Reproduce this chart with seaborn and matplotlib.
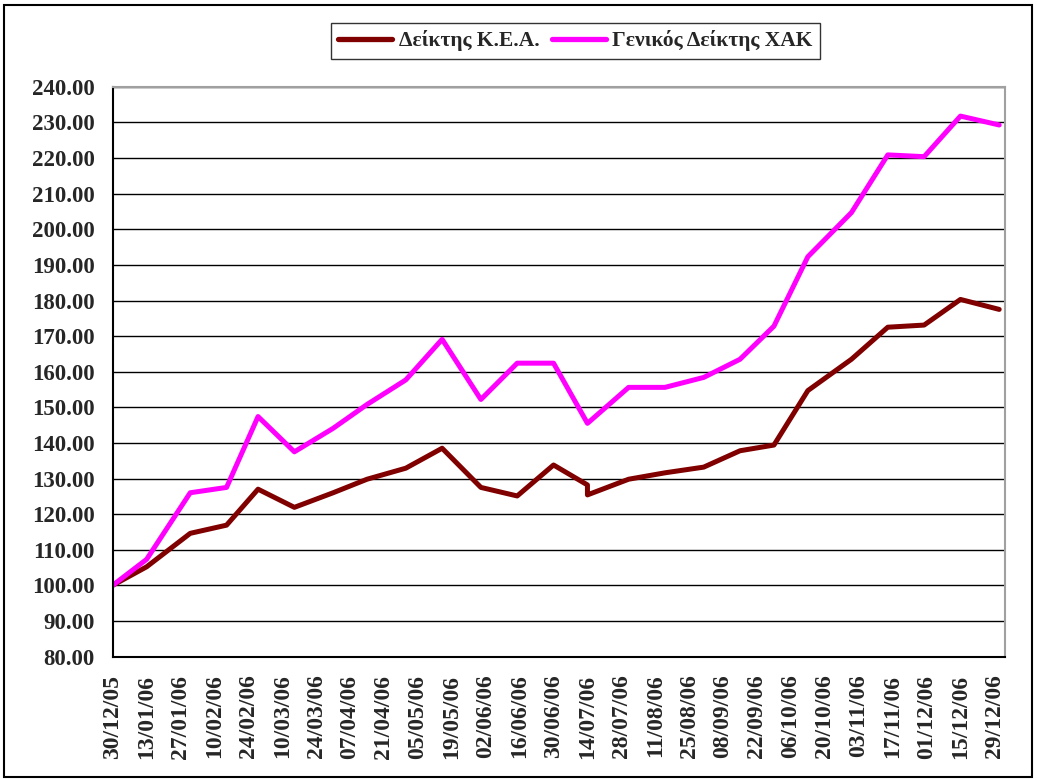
import pandas as pd
import matplotlib
matplotlib.use('Agg')
import matplotlib.pyplot as plt
import matplotlib.patches as mpatches
import seaborn as sns

# Δεδομένα (τιμές διαβασμένες από το γράφημα)
kea_dates = ['2005-12-30', '2006-01-13', '2006-01-31', '2006-02-15', '2006-02-28',
             '2006-03-15', '2006-03-31', '2006-04-14', '2006-04-30', '2006-05-15',
             '2006-05-31', '2006-06-15', '2006-06-30', '2006-07-14', '2006-07-14',
             '2006-07-31', '2006-08-15', '2006-08-31', '2006-09-15', '2006-09-29',
             '2006-10-13', '2006-10-31', '2006-11-15', '2006-11-30', '2006-12-15',
             '2006-12-31']
kea_values = [100.0, 105.2, 114.6, 116.9, 127.0, 121.9, 126.0, 129.8, 132.9, 138.5,
              127.5, 125.1, 133.8, 128.2, 125.4, 129.8, 131.6, 133.2, 137.8, 139.4,
              154.7, 163.5, 172.5, 173.1, 180.3, 177.5]

xak_dates = ['2005-12-30', '2006-01-13', '2006-01-31', '2006-02-15', '2006-02-28',
             '2006-03-15', '2006-03-31', '2006-04-14', '2006-04-30', '2006-05-15',
             '2006-05-31', '2006-06-15', '2006-06-30', '2006-07-14', '2006-07-31',
             '2006-08-15', '2006-08-31', '2006-09-15', '2006-09-29', '2006-10-13',
             '2006-10-31', '2006-11-15', '2006-11-30', '2006-12-15', '2006-12-31']
xak_values = [100.0, 107.3, 126.0, 127.5, 147.4, 137.5, 144.1, 150.8, 157.7, 169.1,
              152.2, 162.4, 162.4, 145.5, 155.6, 155.6, 158.4, 163.5, 172.8, 192.3,
              204.7, 220.9, 220.4, 231.8, 229.3]

tick_labels = ['30/12/05', '13/01/06', '27/01/06', '10/02/06', '24/02/06', '10/03/06',
               '24/03/06', '07/04/06', '21/04/06', '05/05/06', '19/05/06', '02/06/06',
               '16/06/06', '30/06/06', '14/07/06', '28/07/06', '11/08/06', '25/08/06',
               '08/09/06', '22/09/06', '06/10/06', '20/10/06', '03/11/06', '17/11/06',
               '01/12/06', '15/12/06', '29/12/06']

name_kea = 'Δείκτης Κ.Ε.Α.'
name_xak = 'Γενικός Δείκτης ΧΑΚ'

df = pd.concat([
    pd.DataFrame({'Ημερομηνία': pd.to_datetime(kea_dates), 'Τιμή': kea_values, 'Σειρά': name_kea}),
    pd.DataFrame({'Ημερομηνία': pd.to_datetime(xak_dates), 'Τιμή': xak_values, 'Σειρά': name_xak}),
], ignore_index=True)

sns.set_style('white')
plt.rcParams['font.family'] = ['Liberation Serif', 'DejaVu Serif']
plt.rcParams['font.weight'] = 'bold'

fig = plt.figure(figsize=(10.37, 7.8), dpi=100)
ax = fig.add_axes([0.1087, 0.1583, 0.8604, 0.7303])

sns.lineplot(data=df, x='Ημερομηνία', y='Τιμή', hue='Σειρά', estimator=None, sort=False,
             palette={name_kea: '#800000', name_xak: '#FF00FF'}, linewidth=3.6,
             ax=ax, legend=False)

# άξονες
ax.set_xlim(pd.Timestamp('2005-12-30'), pd.Timestamp('2007-01-02 09:00'))
ax.set_xticks(pd.to_datetime(tick_labels, format='%d/%m/%y'))
ax.set_xticklabels(tick_labels, rotation=90, fontsize=17, fontweight='bold')
ax.set_ylim(80, 240)
yt = list(range(80, 241, 10))
ax.set_yticks(yt)
ax.set_yticklabels([f'{v:.2f}' for v in yt], fontsize=16.5, fontweight='bold')
ax.set_xlabel('')
ax.set_ylabel('')

ax.yaxis.grid(True, color='black', lw=1)
ax.set_axisbelow(True)
for s in ['left', 'bottom']:
    ax.spines[s].set_color('black')
    ax.spines[s].set_linewidth(1.5)
for s in ['top', 'right']:
    ax.spines[s].set_color('#a0a0a0')
    ax.spines[s].set_linewidth(1.5)
ax.tick_params(axis='both', direction='out', length=5, width=1, color='black', pad=8)

# υπόμνημα
handles = [plt.Line2D([], [], color='#800000', lw=3.8),
           plt.Line2D([], [], color='#FF00FF', lw=3.8)]
leg = fig.legend(handles, [name_kea, name_xak], loc='center',
                 bbox_to_anchor=(0.555, 0.948), ncol=2, frameon=True, fancybox=False,
                 edgecolor='black', handlelength=2.5, handletextpad=0.3, columnspacing=0.6,
                 borderpad=0.35, prop={'family': 'Liberation Serif', 'weight': 'bold', 'size': 15.5})
leg.get_frame().set_linewidth(1)

# περίγραμμα γραφήματος
fig.patches.append(mpatches.Rectangle((4 / 1037, 3 / 780), 1028 / 1037, 772 / 780,
                                      transform=fig.transFigure, fill=False,
                                      edgecolor='black', lw=1.5))

fig.savefig('out.png', dpi=100)
